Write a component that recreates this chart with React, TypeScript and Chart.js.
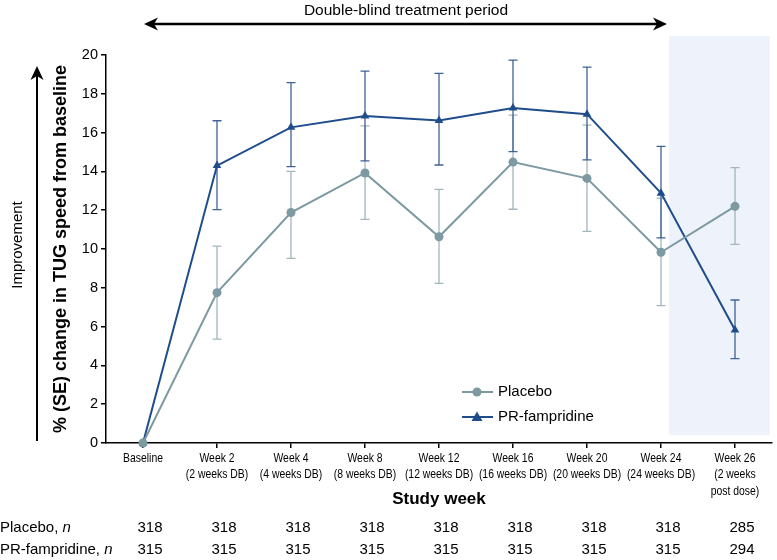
import React, { useEffect, useRef } from "react";
import { Chart, registerables } from "chart.js";

Chart.register(...registerables);

const categories: string[][] = [
  ["Baseline"],
  ["Week 2", "(2 weeks DB)"],
  ["Week 4", "(4 weeks DB)"],
  ["Week 8", "(8 weeks DB)"],
  ["Week 12", "(12 weeks DB)"],
  ["Week 16", "(16 weeks DB)"],
  ["Week 20", "(20 weeks DB)"],
  ["Week 24", "(24 weeks DB)"],
  ["Week 26", "(2 weeks", "post dose)"],
];

const placeboMean = [0, 7.75, 11.88, 13.92, 10.63, 14.48, 13.64, 9.83, 12.2];
const placeboLow = [0, 5.35, 9.52, 11.53, 8.23, 12.05, 10.91, 7.08, 10.24];
const placeboHigh = [0, 10.15, 14.0, 16.35, 13.07, 16.9, 16.39, 12.62, 14.19];

const prMean = [0, 14.3, 16.27, 16.86, 16.63, 17.27, 16.95, 12.88, 5.82];
const prLow = [0, 12.03, 14.25, 14.54, 14.33, 15.02, 14.59, 10.57, 4.35];
const prHigh = [0, 16.61, 18.58, 19.17, 19.05, 19.74, 19.37, 15.29, 7.37];

const placeboN = ["318", "318", "318", "318", "318", "318", "318", "318", "285"];
const prN = ["315", "315", "315", "315", "315", "315", "315", "315", "294"];

const yTicks = [0, 2, 4, 6, 8, 10, 12, 14, 16, 18, 20];

const PLACEBO = "#7d99a2";
const PLACEBO_ERR = "#a3b6bc";
const PR = "#1f4d8c";
const PR_ERR = "#3f6299";
const FONT = '"Liberation Sans", Arial, sans-serif';

function arrowHead(ctx: CanvasRenderingContext2D, x: number, y: number, dir: "left" | "right" | "up") {
  ctx.beginPath();
  if (dir === "left") {
    ctx.moveTo(x, y);
    ctx.lineTo(x + 14, y - 6.5);
    ctx.lineTo(x + 10, y);
    ctx.lineTo(x + 14, y + 6.5);
  } else if (dir === "right") {
    ctx.moveTo(x, y);
    ctx.lineTo(x - 14, y - 6.5);
    ctx.lineTo(x - 10, y);
    ctx.lineTo(x - 14, y + 6.5);
  } else {
    ctx.moveTo(x, y);
    ctx.lineTo(x - 6.5, y + 14);
    ctx.lineTo(x, y + 10);
    ctx.lineTo(x + 6.5, y + 14);
  }
  ctx.closePath();
  ctx.fill();
}

const decorPlugin = {
  id: "decor",
  beforeDraw(chart: any) {
    const { ctx, scales } = chart;
    const x = scales.x;
    const y = scales.y;
    const x0 = x.getPixelForValue(7.11);
    const x1 = x.getPixelForValue(8.47);
    const yTop = y.getPixelForValue(20.98);
    const yBot = y.getPixelForValue(0.4);
    ctx.save();
    ctx.fillStyle = "#eef2fa";
    ctx.fillRect(x0, yTop, x1 - x0, yBot - yTop);
    ctx.restore();
  },
  beforeDatasetsDraw(chart: any) {
    const { ctx, scales } = chart;
    const x = scales.x;
    const y = scales.y;
    const series = [
      { low: placeboLow, high: placeboHigh, color: PLACEBO_ERR },
      { low: prLow, high: prHigh, color: PR_ERR },
    ];
    ctx.save();
    ctx.lineWidth = 1.3;
    series.forEach((s) => {
      ctx.strokeStyle = s.color;
      for (let i = 1; i < categories.length; i++) {
        const px = x.getPixelForValue(i);
        const pl = y.getPixelForValue(s.low[i]);
        const ph = y.getPixelForValue(s.high[i]);
        ctx.beginPath();
        ctx.moveTo(px, pl);
        ctx.lineTo(px, ph);
        ctx.moveTo(px - 4.5, pl);
        ctx.lineTo(px + 4.5, pl);
        ctx.moveTo(px - 4.5, ph);
        ctx.lineTo(px + 4.5, ph);
        ctx.stroke();
      }
    });
    ctx.restore();
  },
  afterDraw(chart: any) {
    const { ctx, scales, chartArea } = chart;
    const x = scales.x;
    ctx.save();
    ctx.fillStyle = "#000";
    ctx.strokeStyle = "#000";

    // x tick labels (narrow)
    ctx.font = `13px ${FONT}`;
    ctx.textAlign = "center";
    ctx.textBaseline = "middle";
    categories.forEach((lines, i) => {
      const px = x.getPixelForValue(i);
      lines.forEach((ln, k) => {
        ctx.save();
        ctx.translate(px, 458 + k * 16.5);
        ctx.scale(0.8, 1);
        ctx.fillText(ln, 0, 0);
        ctx.restore();
      });
    });

    // top arrow + label
    ctx.font = `15.5px ${FONT}`;
    ctx.textAlign = "center";
    ctx.textBaseline = "middle";
    ctx.fillText("Double-blind treatment period", 406, 11);
    const ax0 = x.getPixelForValue(0) + 1;
    const ax1 = x.getPixelForValue(7) + 6;
    ctx.lineWidth = 2.3;
    ctx.beginPath();
    ctx.moveTo(ax0 + 6, 24);
    ctx.lineTo(ax1 - 6, 24);
    ctx.stroke();
    arrowHead(ctx, ax0, 24, "left");
    arrowHead(ctx, ax1, 24, "right");

    // left improvement arrow
    ctx.lineWidth = 2;
    ctx.beginPath();
    ctx.moveTo(37, 441);
    ctx.lineTo(37, 75);
    ctx.stroke();
    arrowHead(ctx, 37, 66, "up");

    ctx.save();
    ctx.translate(18, 245);
    ctx.rotate(-Math.PI / 2);
    ctx.font = `15px ${FONT}`;
    ctx.textAlign = "center";
    ctx.textBaseline = "middle";
    ctx.fillText("Improvement", 0, 0);
    ctx.restore();

    ctx.save();
    ctx.translate(61, (chartArea.top + chartArea.bottom) / 2);
    ctx.rotate(-Math.PI / 2);
    ctx.font = `bold 18px ${FONT}`;
    ctx.textAlign = "center";
    ctx.textBaseline = "middle";
    ctx.fillText("% (SE) change in TUG speed from baseline", 0, 0);
    ctx.restore();

    // x axis title
    ctx.font = `bold 17px ${FONT}`;
    ctx.textAlign = "center";
    ctx.textBaseline = "middle";
    ctx.fillText("Study week", (chartArea.left + chartArea.right) / 2, 499);

    // legend
    const legend = [
      { label: "Placebo", color: PLACEBO, y: 392, shape: "circle" },
      { label: "PR-fampridine", color: PR, y: 417, shape: "triangle" },
    ];
    legend.forEach((l) => {
      ctx.strokeStyle = l.color;
      ctx.fillStyle = l.color;
      ctx.lineWidth = 2;
      ctx.beginPath();
      ctx.moveTo(462, l.y);
      ctx.lineTo(493, l.y);
      ctx.stroke();
      ctx.beginPath();
      if (l.shape === "circle") {
        ctx.arc(477, l.y, 4.5, 0, Math.PI * 2);
      } else {
        ctx.moveTo(477, l.y - 5.5);
        ctx.lineTo(482.5, l.y + 4);
        ctx.lineTo(471.5, l.y + 4);
        ctx.closePath();
      }
      ctx.fill();
      ctx.fillStyle = "#000";
      ctx.font = `15px ${FONT}`;
      ctx.textAlign = "left";
      ctx.textBaseline = "middle";
      ctx.fillText(l.label, 498, l.y);
    });

    // n table
    const rows = [
      { name: "Placebo, ", vals: placeboN, y: 528 },
      { name: "PR-fampridine, ", vals: prN, y: 550 },
    ];
    rows.forEach((r) => {
      ctx.fillStyle = "#000";
      ctx.textBaseline = "middle";
      ctx.textAlign = "left";
      ctx.font = `15px ${FONT}`;
      ctx.fillText(r.name, 0, r.y);
      const w = ctx.measureText(r.name).width;
      ctx.font = `italic 15px ${FONT}`;
      ctx.fillText("n", w, r.y);
      ctx.font = `15px ${FONT}`;
      ctx.textAlign = "center";
      r.vals.forEach((v, i) => {
        ctx.fillText(v, x.getPixelForValue(i) + 7, r.y);
      });
    });
    ctx.restore();
  },
};

export default function App() {
  const ref = useRef<HTMLCanvasElement | null>(null);
  useEffect(() => {
    if (!ref.current) return;
    const chart = new Chart(ref.current, {
      type: "line",
      data: {
        labels: categories as any,
        datasets: [
          {
            label: "Placebo",
            data: placeboMean,
            borderColor: PLACEBO,
            backgroundColor: PLACEBO,
            borderWidth: 2,
            pointStyle: "circle",
            pointRadius: 4.5,
            pointBorderWidth: 0,
            clip: false as any,
          },
          {
            label: "PR-fampridine",
            data: prMean,
            borderColor: PR,
            backgroundColor: PR,
            borderWidth: 2,
            pointStyle: "triangle",
            pointRadius: 5,
            pointBorderWidth: 0,
            clip: false as any,
          },
        ],
      },
      options: {
        responsive: false,
        animation: false,
        layout: { padding: { left: 0, right: 1, top: 55, bottom: 0 } },
        plugins: {
          legend: { display: false },
          tooltip: { enabled: false },
          title: { display: false },
        },
        scales: {
          x: {
            type: "category",
            offset: true,
            grid: {
              offset: false,
              drawOnChartArea: false,
              drawTicks: true,
              tickLength: 5,
              color: "#000",
              lineWidth: 1.5,
            },
            border: { display: true, color: "#000", width: 1.5 },
            ticks: {
              display: false,
              autoSkip: false,
              maxRotation: 0,
            },
            afterFit: (s: any) => {
              s.height = 117;
            },
          },
          y: {
            min: 0,
            max: 20,
            grid: {
              drawOnChartArea: false,
              drawTicks: true,
              tickLength: 5,
              color: "#000",
              lineWidth: 1.5,
            },
            border: { display: true, color: "#000", width: 1.5 },
            afterBuildTicks: (s: any) => {
              s.ticks = yTicks.map((v) => ({ value: v }));
            },
            ticks: {
              color: "#000",
              padding: 3,
              font: { family: FONT, size: 14.5 },
            },
            afterFit: (s: any) => {
              s.width = 106;
            },
          },
        },
      },
      plugins: [decorPlugin],
    });
    return () => chart.destroy();
  }, []);
  return (
    <div style={{ position: "absolute", left: 0, top: 0, width: 777, height: 560, background: "#fff" }}>
      <canvas ref={ref} width={777} height={560} style={{ display: "block" }} />
    </div>
  );
}
